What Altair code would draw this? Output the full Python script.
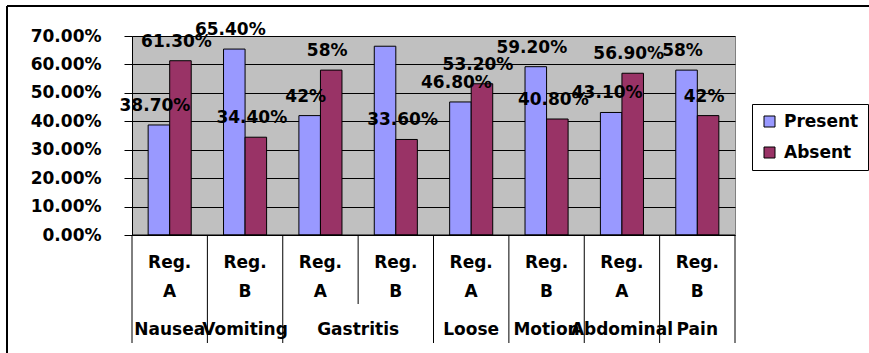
import altair as alt
import pandas as pd

# Symptom groups, each surveyed in two regions
symptoms = ["Nausea Vomiting", "Gastritis", "Loose Motion", "Abdominal Pain"]
regions = ["Reg. A", "Reg. B"]

# Percentages per column (symptom x region), in column order
present = [38.7, 65.4, 42.0, 66.4, 46.8, 59.2, 43.1, 58.0]
absent = [61.3, 34.4, 58.0, 33.6, 53.2, 40.8, 56.9, 42.0]
# Value labels that are printed on the chart (the Gastritis Reg. B "Present" one is not)
present_shown = [True, True, True, False, True, True, True, True]
absent_shown = [True, True, True, True, True, True, True, True]

# Y axis ticks (fractions)
y_ticks = [0.0, 0.1, 0.2, 0.3, 0.4, 0.5, 0.6, 0.7]

series = ["Present", "Absent"]
colors = ["#9999FF", "#993366"]

FONT = "DejaVu Sans"


def pct_label(v):
    return f"{int(round(v))}%" if abs(v - round(v)) < 1e-9 else f"{v:.2f}%"


cols = []
for s_i, s in enumerate(symptoms):
    for r_i, r in enumerate(regions):
        cols.append({"col": f"{s_i}{r_i}", "symptom": s, "region": r, "r_i": r_i})
col_order = [c["col"] for c in cols]

rows = []
for i, c in enumerate(cols):
    for name, vals, shown in (("Present", present, present_shown), ("Absent", absent, absent_shown)):
        rows.append({
            "col": c["col"],
            "series": name,
            "value": vals[i] / 100.0,
            "label": pct_label(vals[i]) if shown[i] else "",
        })
bars_df = pd.DataFrame(rows)

# Two-line region labels under each column
reg_rows = []
for c in cols:
    word, letter = c["region"].split(" ")
    reg_rows.append({"col": c["col"], "line1": word, "line2": letter})
reg_df = pd.DataFrame(reg_rows)

# Symptom labels: a two-word symptom puts one word under each region,
# a one-word symptom is centred across both columns
single_rows, span_rows, sep_rows = [], [], []
for s_i, s in enumerate(symptoms):
    words = s.split(" ")
    a, b = f"{s_i}0", f"{s_i}1"
    if len(words) == 2:
        single_rows.append({"col": a, "text": words[0]})
        single_rows.append({"col": b, "text": words[1]})
        sep_rows.append({"col": b, "full": True})
    else:
        span_rows.append({"col": a, "text": s})
        sep_rows.append({"col": b, "full": False})
    sep_rows.append({"col": a, "full": True})
single_df = pd.DataFrame(single_rows)
span_df = pd.DataFrame(span_rows)
sep_df = pd.DataFrame(sep_rows)
end_df = pd.DataFrame([{"col": col_order[-1]}])

W, H = 603, 199

xscale = alt.Scale(domain=col_order, paddingInner=0, paddingOuter=0)
x_enc = alt.X("col:N", scale=xscale, axis=None, sort=col_order)
y_scale = alt.Scale(domain=[0, 0.7], nice=False, zero=True)
off_scale = alt.Scale(domain=series, paddingInner=0, paddingOuter=0.75)

y_axis = alt.Axis(
    format=".2%",
    values=y_ticks,
    title=None,
    grid=True,
    gridColor="black",
    gridWidth=1,
    domain=True,
    domainColor="black",
    tickColor="black",
    tickSize=8,
    labelPadding=23,
    labelOverlap=False,
    labelFlush=False,
    labelFont=FONT,
    labelFontWeight="bold",
    labelFontSize=17,
    labelColor="black",
)
y_enc = alt.Y("value:Q", scale=y_scale, axis=y_axis)

bars = alt.Chart(bars_df).mark_bar(stroke="black", strokeWidth=1).encode(
    x=x_enc,
    xOffset=alt.XOffset("series:N", scale=off_scale, sort=series),
    y=y_enc,
    color=alt.Color(
        "series:N",
        scale=alt.Scale(domain=series, range=colors),
        sort=series,
        legend=alt.Legend(
            title=None,
            orient="none",
            legendX=620,
            legendY=68,
            direction="vertical",
            fillColor="white",
            strokeColor="black",
            padding=9,
            rowPadding=13,
            symbolType="square",
            symbolSize=121,
            symbolStrokeColor="black",
            symbolStrokeWidth=1,
            symbolOpacity=1,
            labelFont=FONT,
            labelFontWeight="bold",
            labelFontSize=17,
            labelColor="black",
            labelOffset=6,
        ),
    ),
)

value_labels = alt.Chart(bars_df).mark_text(
    font=FONT, fontWeight="bold", fontSize=17, color="black",
    baseline="middle", dy=-19, dx=-4,
).encode(
    x=x_enc,
    xOffset=alt.XOffset("series:N", scale=off_scale, sort=series),
    y=y_enc,
    text="label:N",
)

text_style = dict(font=FONT, fontWeight="bold", fontSize=17, color="black", baseline="middle")

reg_line1 = alt.Chart(reg_df).mark_text(**text_style).encode(
    x=x_enc, y=alt.value(H + 28), text="line1:N"
)
reg_line2 = alt.Chart(reg_df).mark_text(**text_style).encode(
    x=x_enc, y=alt.value(H + 57), text="line2:N"
)
sym_single = alt.Chart(single_df).mark_text(**text_style).encode(
    x=x_enc, y=alt.value(H + 95), text="text:N"
)
sym_span = alt.Chart(span_df).mark_text(**text_style).encode(
    x=alt.X("col:N", scale=xscale, axis=None, sort=col_order, bandPosition=1),
    y=alt.value(H + 95), text="text:N"
)

# Category separators below the plot
sep_full = alt.Chart(sep_df).transform_filter("datum.full").mark_rule(color="black", strokeWidth=1).encode(
    x=alt.X("col:N", scale=xscale, axis=None, sort=col_order, bandPosition=0),
    y=alt.value(H), y2=alt.value(H + 108),
)
sep_short = alt.Chart(sep_df).transform_filter("!datum.full").mark_rule(color="black", strokeWidth=1).encode(
    x=alt.X("col:N", scale=xscale, axis=None, sort=col_order, bandPosition=0),
    y=alt.value(H), y2=alt.value(H + 69),
)
sep_end = alt.Chart(end_df).mark_rule(color="black", strokeWidth=1).encode(
    x=alt.X("col:N", scale=xscale, axis=None, sort=col_order, bandPosition=1),
    y=alt.value(H), y2=alt.value(H + 108),
)
base_line = alt.Chart(end_df).mark_rule(color="black", strokeWidth=1).encode(
    x=alt.value(0), x2=alt.value(W), y=alt.value(H)
)

# Outer chart-area frame (top and left edges)
frame_top = alt.Chart(end_df).mark_rule(color="black", strokeWidth=2).encode(
    x=alt.value(-125), x2=alt.value(740), y=alt.value(-30)
)
frame_left = alt.Chart(end_df).mark_rule(color="black", strokeWidth=2).encode(
    x=alt.value(-125), y=alt.value(-30), y2=alt.value(320)
)

chart = alt.layer(
    bars, value_labels, base_line, reg_line1, reg_line2, sym_single, sym_span,
    sep_full, sep_short, sep_end, frame_top, frame_left,
).properties(
    width=W,
    height=H,
    autosize=alt.AutoSizeParams(type="none"),
    padding={"left": 132, "top": 36, "right": 134, "bottom": 118},
    background="white",
).configure_view(
    fill="#C0C0C0", stroke="#808080", strokeWidth=1,
).configure_scale(
    bandPaddingInner=0, bandPaddingOuter=0,
)

chart.save("out.html", embed_options={"renderer": "svg", "actions": False})
